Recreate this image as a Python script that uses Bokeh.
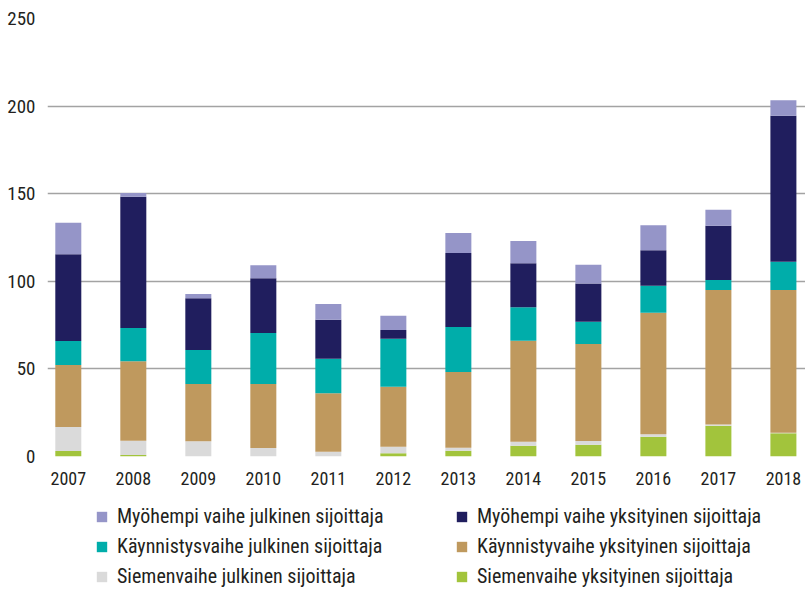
from bokeh.plotting import figure
from bokeh.layouts import column
from bokeh.models import Range1d, Legend, LegendItem, FixedTicker, ColumnDataSource
from bokeh.embed import file_html
from bokeh.resources import INLINE

years = [2007, 2008, 2009, 2010, 2011, 2012, 2013, 2014, 2015, 2016, 2017, 2018]
siemen_yks = [3.1, 0.9, 0.0, 0.0, 0.0, 1.8, 3.3, 6.2, 6.7, 11.3, 17.6, 13.2]
siemen_julk = [13.7, 8.1, 8.7, 4.9, 2.7, 3.8, 1.7, 2.2, 2.1, 1.4, 0.6, 0.4]
kaynn_yks = [35.4, 45.3, 32.7, 36.5, 33.4, 34.2, 43.2, 57.7, 55.4, 69.4, 76.8, 81.4]
kaynn_julk = [13.7, 19.0, 19.4, 29.1, 19.7, 27.4, 25.7, 19.1, 12.7, 15.4, 5.7, 16.2]
myoh_yks = [49.5, 75.0, 29.5, 31.2, 22.3, 5.0, 42.3, 25.1, 21.8, 20.2, 31.0, 83.3]
myoh_julk = [18.0, 2.1, 2.5, 7.4, 8.9, 8.2, 11.4, 12.7, 10.8, 14.3, 9.2, 8.8]
y_ticks = [0, 50, 100, 150, 200, 250]

series_keys = ["siemen_yks", "siemen_julk", "kaynn_yks", "kaynn_julk", "myoh_yks", "myoh_julk"]
series_labels = {
    "siemen_yks": "Siemenvaihe yksityinen sijoittaja",
    "siemen_julk": "Siemenvaihe julkinen sijoittaja",
    "kaynn_yks": "Käynnistyvaihe yksityinen sijoittaja",
    "kaynn_julk": "Käynnistysvaihe julkinen sijoittaja",
    "myoh_yks": "Myöhempi vaihe yksityinen sijoittaja",
    "myoh_julk": "Myöhempi vaihe julkinen sijoittaja",
}
colors = ["#a2c43c", "#dadada", "#bf995e", "#00adaa", "#201e5e", "#9595c8"]

src = ColumnDataSource(dict(year=years, siemen_yks=siemen_yks, siemen_julk=siemen_julk,
                            kaynn_yks=kaynn_yks, kaynn_julk=kaynn_julk,
                            myoh_yks=myoh_yks, myoh_julk=myoh_julk))

FONT = "Roboto Condensed"
TXT = "#231f20"

p = figure(width=805, height=492, x_range=Range1d(2006.68, 2018.34), y_range=Range1d(0, 250),
           output_backend="svg", toolbar_location=None,
           min_border_left=47, min_border_right=0, min_border_top=18, min_border_bottom=36)
p.outline_line_color = None

p.vbar_stack(series_keys, x="year", width=0.4, color=colors, line_color=None, source=src)

p.xgrid.grid_line_color = None
p.ygrid.grid_line_color = "#a3a3a3"
p.ygrid.grid_line_width = 1.3
p.yaxis.ticker = FixedTicker(ticks=y_ticks)
p.xaxis.ticker = FixedTicker(ticks=years)
for ax in (p.xaxis, p.yaxis):
    ax.axis_line_color = None
    ax.major_tick_line_color = None
    ax.minor_tick_line_color = None
    ax.major_tick_out = 0
    ax.major_tick_in = 0
    ax.minor_tick_out = 0
    ax.minor_tick_in = 0
    ax.major_label_text_font = FONT
    ax.major_label_text_color = TXT
p.xaxis.major_label_text_font_size = "18px"
p.yaxis.major_label_text_font_size = "19px"
p.xaxis.major_label_standoff = 15
p.yaxis.major_label_standoff = 12

# legend figure (hidden copies of the bars supply the legend swatches);
# its frame is aligned with the main plot's frame (left edge at 47px)
p2 = figure(width=805, height=99, x_range=Range1d(0, 1), y_range=Range1d(1000, 1001),
            output_backend="svg", toolbar_location=None,
            x_axis_location=None, y_axis_location=None,
            min_border_left=0, min_border_right=0, min_border_top=0, min_border_bottom=0)
p2.outline_line_color = None
p2.grid.visible = False
rs2 = p2.vbar_stack(series_keys, x="year", width=0.4, color=colors, line_color=None, source=src)
rmap = dict(zip(series_keys, rs2))

order = ["myoh_julk", "kaynn_julk", "siemen_julk", "myoh_yks", "kaynn_yks", "siemen_yks"]
items = [LegendItem(label=series_labels[k], renderers=[rmap[k]]) for k in order]
legend = Legend(items=items, ncols=2, orientation="vertical", location=(48, 3),
                glyph_width=13, glyph_height=13, label_standoff=9, label_width=332,
                spacing=6, padding=0, margin=0,
                label_text_font=FONT, label_text_font_size="20px", label_text_color=TXT,
                background_fill_alpha=0, border_line_color=None)
p2.add_layout(legend, "center")

open("out.html", "w").write(file_html(column(p, p2, spacing=0), INLINE))
